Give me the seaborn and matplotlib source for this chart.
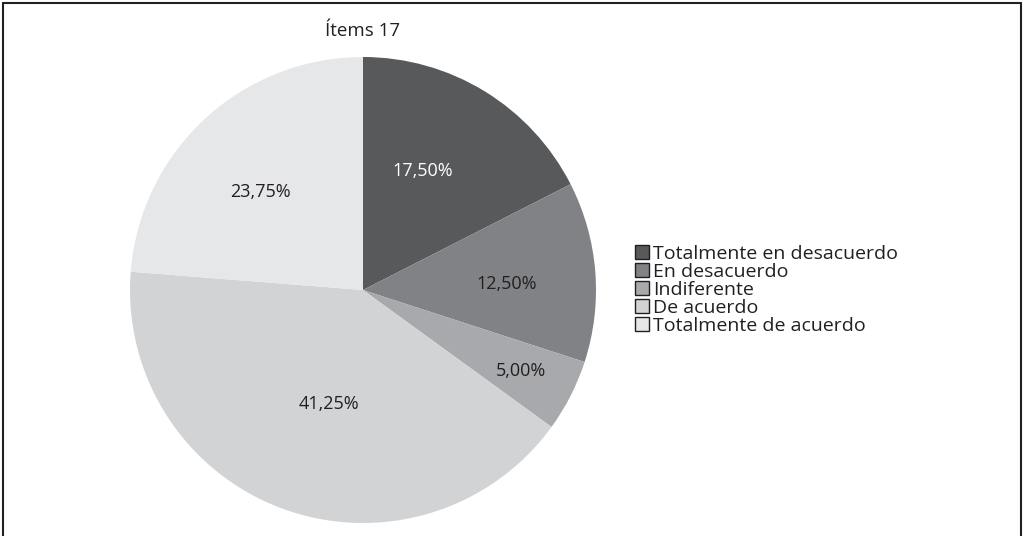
import matplotlib
matplotlib.use("Agg")
import matplotlib.pyplot as plt
import seaborn as sns
import numpy as np
from matplotlib.lines import Line2D

categories = ["Totalmente en desacuerdo", "En desacuerdo", "Indiferente",
              "De acuerdo", "Totalmente de acuerdo"]
values = [17.50, 12.50, 5.00, 41.25, 23.75]
labels = ["17,50%", "12,50%", "5,00%", "41,25%", "23,75%"]
title = "Ítems 17"

colors = ["#58595b", "#808285", "#a7a9ac", "#d1d3d4", "#e6e7e8"]
label_colors = ["white", "#231f20", "#231f20", "#231f20", "#231f20"]
# label placement (fraction of radius, angle in degrees) - style only
label_dist = [0.572, 0.618, 0.762, 0.511, 0.610]
label_ang = [63.2, 2.4, -27.1, -106.6, 136.4]

sns.set_theme(style="white")
plt.rcParams["font.family"] = ["Open Sans", "DejaVu Sans"]

fig = plt.figure(figsize=(10.24, 5.36), dpi=100)
ax = fig.add_axes([(363 - 233) / 1024, (536 - 523) / 536, 466 / 1024, 466 / 536])

wedges, _ = ax.pie(values, colors=colors, startangle=90, counterclock=False,
                   radius=1, wedgeprops=dict(linewidth=0))
for lab, d, a, c in zip(labels, label_dist, label_ang, label_colors):
    ang = np.deg2rad(a)
    ax.text(d * np.cos(ang), d * np.sin(ang), lab, ha="center", va="center",
            fontsize=13, color=c)
ax.set_xlim(-1, 1)
ax.set_ylim(-1, 1)
ax.set_aspect("equal")
ax.axis("off")

fig.text(363 / 1024, 1 - 31 / 536, title, ha="center", va="center",
         fontsize=13.5, color="#231f20")

handles = [plt.Rectangle((0, 0), 1, 1, facecolor=c, edgecolor="#231f20", linewidth=1.0)
           for c in colors]
leg = fig.legend(handles, categories, loc="center left",
                 bbox_to_anchor=(635 / 1024, 1 - 290 / 536), frameon=False,
                 fontsize=14, handlelength=0.7, handleheight=0.7,
                 handletextpad=0.25, labelspacing=0.0, borderpad=0,
                 borderaxespad=0)
for t in leg.get_texts():
    t.set_color("#231f20")

# frame lines
for xs, ys in [([3 / 1024, 3 / 1024], [0, 1 - 3 / 536]),
               ([3 / 1024, 1021 / 1024], [1 - 3 / 536, 1 - 3 / 536]),
               ([1021 / 1024, 1021 / 1024], [0, 1 - 3 / 536])]:
    fig.add_artist(Line2D(xs, ys, color="#231f20", linewidth=1.5,
                          transform=fig.transFigure))

fig.savefig("out.png", dpi=100)
